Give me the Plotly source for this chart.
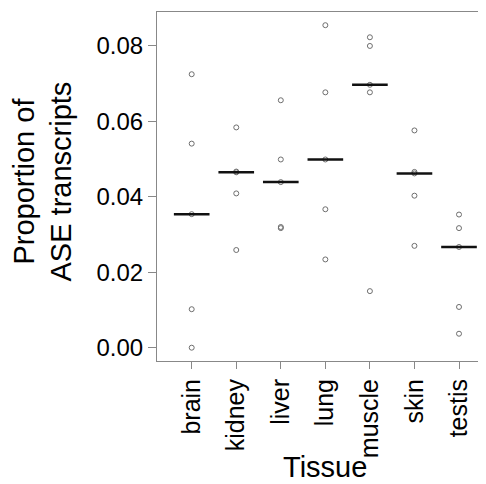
import numpy as np
import plotly.graph_objects as go

tissues = ["brain", "kidney", "liver", "lung", "muscle", "skin", "testis"]
brain = [0.0725, 0.0541, 0.0354, 0.0102, 0.0000]
kidney = [0.0584, 0.0467, 0.0465, 0.0409, 0.0259]
liver = [0.0656, 0.0499, 0.0439, 0.0320, 0.0317]
lung = [0.0855, 0.0677, 0.0499, 0.0367, 0.0234]
muscle = [0.0823, 0.0800, 0.0697, 0.0677, 0.0150]
skin = [0.0576, 0.0466, 0.0462, 0.0403, 0.0270]
testis = [0.0353, 0.0317, 0.0267, 0.0108, 0.0037]
values = [brain, kidney, liver, lung, muscle, skin, testis]
y_ticks = [0.00, 0.02, 0.04, 0.06, 0.08]

FONT = "Liberation Sans, Arial, sans-serif"

fig = go.Figure()

# points
for i, vals in enumerate(values):
    fig.add_trace(go.Scatter(
        x=[i] * len(vals), y=vals, mode="markers",
        marker=dict(symbol="circle-open", size=5, color="#6e6e6e", line=dict(width=1, color="#6e6e6e")),
        showlegend=False, hoverinfo="y"))

# median lines
for i, vals in enumerate(values):
    m = float(np.median(vals))
    fig.add_trace(go.Scatter(
        x=[i - 0.4, i + 0.4], y=[m, m], mode="lines",
        line=dict(color="#111111", width=2.5),
        showlegend=False, hoverinfo="skip"))

fig.update_layout(
    width=478, height=476,
    margin=dict(l=149, r=0, t=4, b=123),
    paper_bgcolor="white", plot_bgcolor="white",
    font=dict(family=FONT, color="black"),
    xaxis=dict(
        range=[-0.779, 6.606], tickmode="array",
        tickvals=list(range(len(tissues))), ticktext=tissues,
        tickangle=-90, tickfont=dict(size=25, family=FONT, color="black"),
        ticks="outside", ticklen=7, tickcolor="#888888", tickwidth=1,
        showline=True, linecolor="#888888", linewidth=1, mirror=True,
        showgrid=False, zeroline=False),
    yaxis=dict(
        range=[-0.00353, 0.0890], tickmode="array",
        tickvals=y_ticks, ticktext=[f"{v:.2f}" for v in y_ticks],
        tickfont=dict(size=24, family=FONT, color="black"),
        ticks="outside", ticklen=8, tickcolor="#888888", tickwidth=1,
        showline=True, linecolor="#888888", linewidth=1, mirror=False,
        showgrid=False, zeroline=False),
    annotations=[
        dict(text="Tissue", x=3, xref="x", y=-0.303, yref="paper",
             xanchor="center", yanchor="middle", showarrow=False,
             font=dict(size=29, family=FONT, color="black")),
        dict(text="Proportion of<br>ASE transcripts", x=-0.348, xref="paper",
             y=0.513, yref="paper", xanchor="center", yanchor="middle",
             textangle=-90, showarrow=False,
             font=dict(size=29, family=FONT, color="black")),
    ],
)

fig.write_html("out.html")
